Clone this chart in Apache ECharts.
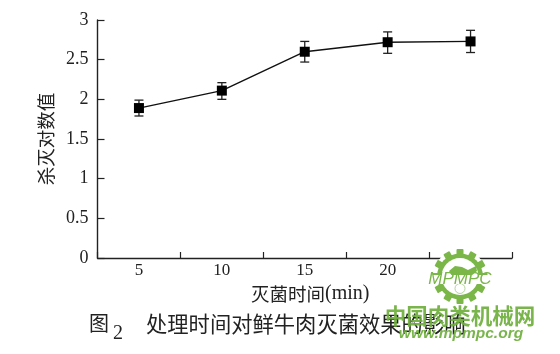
<!DOCTYPE html>
<html>
<head>
<meta charset="utf-8">
<style>
  html, body { margin: 0; padding: 0; background: #fff; }
  #chart { width: 560px; height: 354px; }
</style>
<script src="https://cdn.jsdelivr.net/npm/echarts@6/dist/echarts.min.js"></script>
</head>
<body>
<div id="chart"></div>
<script>
const times = ['5', '10', '15', '20', '25']
const logValues = [1.89, 2.11, 2.6, 2.72, 2.73]
const errorLow = [1.79, 2.0, 2.47, 2.58, 2.59]
const errorHigh = [1.99, 2.21, 2.73, 2.85, 2.87]

const SERIF = '"Liberation Serif", "Noto Sans CJK SC", serif'
const CJK = '"Noto Sans CJK SC", sans-serif'
const INK = '#222'
const GREEN = '#7ab648'
const WATERMARK = 'rgba(110, 175, 60, 0.92)'

// watermark gear, sits on top of the last tick label like in the scan
function gearTeeth(cx, cy, count) {
  const teeth = []
  for (let i = 0; i < count; i++) {
    teeth.push({
      type: 'rect',
      x: cx,
      y: cy,
      rotation: (i * 2 * Math.PI) / count,
      shape: { x: -3.5, y: -27.5, width: 7, height: 7, r: 1 },
      style: { fill: GREEN },
      z: 100,
    })
  }
  return teeth
}

const cx = 460
const cy = 276.5

const myChart = echarts.init(document.getElementById('chart'), null, {
  renderer: 'canvas',
})

const option = {
  animation: false,
  backgroundColor: '#fff',
  grid: { left: 97.5, right: 48, top: 20, bottom: 96 },
  title: [
    {
      text: '图',
      left: 84,
      top: 308,
      textStyle: { fontFamily: CJK, fontWeight: 'normal', fontSize: 20, color: INK },
    },
    {
      text: '2',
      left: 108,
      top: 319,
      textStyle: { fontFamily: SERIF, fontWeight: 'normal', fontSize: 20, color: INK },
    },
    {
      text: '处理时间对鲜牛肉灭菌效果的影响',
      left: 141,
      top: 308,
      textStyle: { fontFamily: CJK, fontWeight: 'normal', fontSize: 21.3, color: INK },
    },
  ],
  xAxis: {
    type: 'category',
    data: times,
    name: '{a|灭菌时间}{b|(min)}',
    nameLocation: 'middle',
    nameGap: 21,
    nameTextStyle: {
      padding: [0, 0, 0, 11],
      rich: {
        a: { fontFamily: CJK, fontSize: 18.5, color: INK },
        b: { fontFamily: SERIF, fontSize: 20, color: INK },
      },
    },
    axisLine: { lineStyle: { color: INK, width: 1.4 } },
    axisTick: { show: true, inside: true, length: 6, lineStyle: { color: INK, width: 1.2 } },
    axisLabel: { fontFamily: SERIF, fontSize: 17, color: INK, margin: 4 },
    splitLine: { show: false },
  },
  yAxis: {
    type: 'value',
    min: 0,
    max: 3,
    interval: 0.5,
    name: '杀灭对数值',
    nameLocation: 'middle',
    nameRotate: 90,
    nameGap: 36,
    nameTextStyle: { fontFamily: CJK, fontSize: 18.5, color: INK },
    axisLine: { show: true, onZero: false, lineStyle: { color: INK, width: 1.4 } },
    axisTick: { show: true, inside: true, length: 7, lineStyle: { color: INK, width: 1.2 } },
    axisLabel: { fontFamily: SERIF, fontSize: 18, color: INK, margin: 9 },
    splitLine: { show: false },
  },
  series: [
    {
      type: 'line',
      data: logValues,
      symbol: 'rect',
      symbolSize: 10,
      itemStyle: { color: '#000' },
      lineStyle: { color: '#111', width: 1.4 },
      z: 3,
    },
    {
      type: 'custom',
      data: times.map(function (t, i) {
        return [i, errorLow[i], errorHigh[i]]
      }),
      encode: { x: 0, y: [1, 2] },
      renderItem: function (params, api) {
        const low = api.coord([api.value(0), api.value(1)])
        const high = api.coord([api.value(0), api.value(2)])
        const cap = 4.5
        const style = { stroke: '#222', lineWidth: 1.3, fill: null }
        return {
          type: 'group',
          children: [
            { type: 'line', shape: { x1: low[0], y1: low[1], x2: high[0], y2: high[1] }, style: style },
            { type: 'line', shape: { x1: low[0] - cap, y1: low[1], x2: low[0] + cap, y2: low[1] }, style: style },
            { type: 'line', shape: { x1: high[0] - cap, y1: high[1], x2: high[0] + cap, y2: high[1] }, style: style },
          ],
        }
      },
      z: 2,
    },
  ],
  graphic: {
    elements: [
      {
        type: 'group',
        silent: true,
        children: [
          // white patch behind the logo, hides the 25 label
          { type: 'circle', z: 99, shape: { cx: cx, cy: cy, r: 27 }, style: { fill: '#fff' } },
        ].concat(gearTeeth(cx, cy, 12)).concat([
          { type: 'circle', z: 100, shape: { cx: cx, cy: cy, r: 23 }, style: { fill: GREEN } },
          { type: 'circle', z: 101, shape: { cx: cx, cy: cy, r: 18.5 }, style: { fill: '#fff' } },
          {
            type: 'polygon',
            z: 102,
            shape: {
              points: [
                [449, 271], [455, 266], [462, 267], [468, 270], [476, 266],
                [477, 271], [471, 276], [467, 280], [458, 279], [452, 276],
              ],
            },
            style: { fill: GREEN },
          },
          { type: 'rect', z: 103, shape: { x: 428, y: 275, width: 64, height: 9 }, style: { fill: '#fff' } },
          {
            type: 'text',
            z: 104,
            x: cx,
            y: 279,
            style: {
              text: 'MPMPC',
              align: 'center',
              verticalAlign: 'middle',
              font: 'italic 17px "Liberation Sans", sans-serif',
              fill: GREEN,
            },
          },
          {
            type: 'circle',
            z: 102,
            shape: { cx: cx, cy: cy + 12, r: 5 },
            style: { fill: '#fff', stroke: '#b5d69a', lineWidth: 1 },
          },
          {
            type: 'text',
            z: 105,
            x: 460,
            y: 316,
            style: {
              text: '中国肉类机械网',
              align: 'center',
              verticalAlign: 'middle',
              font: 'bold 21.5px "Noto Sans CJK SC", sans-serif',
              fill: WATERMARK,
            },
          },
          {
            type: 'text',
            z: 105,
            x: 461,
            y: 334,
            style: {
              text: 'www.mpmpc.org',
              align: 'center',
              verticalAlign: 'middle',
              font: 'italic bold 15.5px "Liberation Sans", sans-serif',
              fill: WATERMARK,
            },
          },
        ]),
      },
    ],
  },
}

myChart.setOption(option)
</script>
</body>
</html>
